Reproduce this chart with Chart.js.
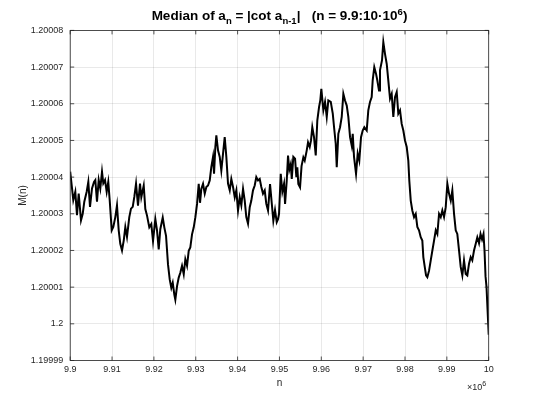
<!DOCTYPE html>
<html><head><meta charset="utf-8">
<script src="https://cdn.jsdelivr.net/npm/chart.js@4.4.0/dist/chart.umd.min.js"></script>
<style>
html,body{margin:0;padding:0;background:#fff;}
#wrap{position:relative;width:540px;height:405px;}
canvas{position:absolute;left:0;top:0;}
#title{position:absolute;left:70px;top:8px;width:419px;text-align:center;font:bold 13.5px "Liberation Sans",Arial,sans-serif;color:#000;line-height:16px;white-space:pre;}
#title sub,#title sup{font-size:9.5px;line-height:0;}
#expo{position:absolute;left:467px;top:381px;font:9px "Liberation Sans",Arial,sans-serif;color:#262626;line-height:12px;}
#expo sup{font-size:7px;line-height:0;}
</style></head>
<body><div id="wrap"><canvas id="c" width="540" height="405"></canvas>
<div id="title">Median of a<sub>n</sub> = |cot a<sub>n-1</sub>|   (n = 9.9:10·10<sup>6</sup>)</div>
<div id="expo">×10<sup>6</sup></div></div>
<script>
// n in units of 10^6
const nValues = [
9.90000,9.90043,9.90074,9.90122,9.90162,9.90203,9.90258,9.90299,9.90337,9.90394,
9.90433,9.90473,9.90521,9.90569,9.90600,9.90640,9.90681,9.90719,9.90760,9.90791,
9.90832,9.90872,9.90910,9.90944,9.90992,9.91030,9.91078,9.91118,9.91159,9.91197,
9.91238,9.91279,9.91317,9.91357,9.91412,9.91453,9.91494,9.91532,9.91573,9.91620,
9.91668,9.91699,9.91757,9.91795,9.91836,9.91890,9.91938,9.91979,9.92034,9.92075,
9.92115,9.92153,9.92211,9.92249,9.92290,9.92337,9.92378,9.92416,9.92450,9.92488,
9.92512,9.92553,9.92593,9.92631,9.92672,9.92713,9.92751,9.92792,9.92832,9.92870,
9.92911,9.92952,9.92990,9.93031,9.93071,9.93102,9.93133,9.93174,9.93215,9.93253,
9.93293,9.93334,9.93372,9.93413,9.93437,9.93468,9.93492,9.93532,9.93573,9.93611,
9.93652,9.93692,9.93731,9.93771,9.93812,9.93850,9.93891,9.93932,9.93970,9.94010,
9.94051,9.94089,9.94130,9.94170,9.94208,9.94249,9.94290,9.94328,9.94368,9.94409,
9.94447,9.94488,9.94528,9.94567,9.94607,9.94648,9.94686,9.94727,9.94775,9.94815,
9.94854,9.94894,9.94935,9.94966,9.94990,9.95031,9.95069,9.95110,9.95134,9.95174,
9.95205,9.95236,9.95270,9.95294,9.95332,9.95373,9.95404,9.95427,9.95451,9.95492,
9.95528,9.95571,9.95604,9.95652,9.95683,9.95723,9.95754,9.95785,9.95826,9.95867,
9.95905,9.95946,9.95977,9.96001,9.96049,9.96089,9.96130,9.96168,9.96226,9.96274,
9.96305,9.96345,9.96369,9.96407,9.96448,9.96488,9.96527,9.96567,9.96608,9.96646,
9.96687,9.96727,9.96751,9.96782,9.96830,9.96870,9.96908,9.96949,9.96989,9.97028,
9.97085,9.97123,9.97164,9.97204,9.97228,9.97266,9.97307,9.97338,9.97379,9.97402,
9.97450,9.97482,9.97522,9.97563,9.97601,9.97642,9.97682,9.97721,9.97761,9.97802,
9.97840,9.97881,9.97921,9.97960,9.98000,9.98041,9.98079,9.98103,9.98137,9.98175,
9.98216,9.98256,9.98295,9.98335,9.98376,9.98414,9.98438,9.98472,9.98503,9.98534,
9.98575,9.98615,9.98654,9.98694,9.98735,9.98773,9.98814,9.98854,9.98892,9.98933,
9.98973,9.99012,9.99052,9.99093,9.99131,9.99172,9.99212,9.99250,9.99291,9.99331,
9.99370,9.99410,9.99451,9.99489,9.99530,9.99570,9.99608,9.99649,9.99690,9.99728,
9.99769,9.99805,9.99841,9.99876,9.99900,9.99924,9.99948,9.99972,10.00000
];
const medianValues = [
1.2000415,1.2000370,1.2000337,1.2000360,1.2000296,1.2000355,1.2000282,1.2000300,1.2000333,1.2000360,
1.2000387,1.2000319,1.2000369,1.2000387,1.2000392,1.2000333,1.2000392,1.2000369,1.2000415,1.2000383,
1.2000392,1.2000360,1.2000387,1.2000337,1.2000255,1.2000264,1.2000291,1.2000323,1.2000255,1.2000218,
1.2000200,1.2000227,1.2000264,1.2000237,1.2000291,1.2000314,1.2000319,1.2000346,1.2000382,1.2000322,
1.2000382,1.2000345,1.2000377,1.2000313,1.2000295,1.2000263,1.2000272,1.2000226,1.2000286,1.2000254,
1.2000203,1.2000258,1.2000290,1.2000263,1.2000240,1.2000162,1.2000121,1.2000098,1.2000112,1.2000080,
1.2000066,1.2000103,1.2000126,1.2000139,1.2000158,1.2000135,1.2000176,1.2000158,1.2000199,1.2000208,
1.2000244,1.2000263,1.2000290,1.2000327,1.2000382,1.2000330,1.2000368,1.2000382,1.2000355,1.2000373,
1.2000377,1.2000391,1.2000427,1.2000455,1.2000409,1.2000482,1.2000514,1.2000473,1.2000455,1.2000418,
1.2000464,1.2000509,1.2000455,1.2000382,1.2000364,1.2000395,1.2000373,1.2000345,1.2000364,1.2000309,
1.2000345,1.2000323,1.2000368,1.2000336,1.2000291,1.2000273,1.2000318,1.2000336,1.2000364,1.2000377,
1.2000400,1.2000391,1.2000395,1.2000373,1.2000355,1.2000364,1.2000327,1.2000309,1.2000381,1.2000330,
1.2000281,1.2000310,1.2000277,1.2000285,1.2000300,1.2000409,1.2000360,1.2000382,1.2000327,1.2000390,
1.2000459,1.2000420,1.2000435,1.2000395,1.2000455,1.2000450,1.2000400,1.2000427,1.2000381,1.2000372,
1.2000430,1.2000454,1.2000445,1.2000473,1.2000495,1.2000482,1.2000500,1.2000536,1.2000509,1.2000459,
1.2000555,1.2000591,1.2000610,1.2000641,1.2000582,1.2000605,1.2000564,1.2000609,1.2000605,1.2000573,
1.2000536,1.2000491,1.2000427,1.2000518,1.2000536,1.2000564,1.2000627,1.2000609,1.2000595,1.2000564,
1.2000509,1.2000486,1.2000518,1.2000455,1.2000409,1.2000464,1.2000445,1.2000509,1.2000527,1.2000536,
1.2000527,1.2000582,1.2000605,1.2000618,1.2000664,1.2000700,1.2000682,1.2000664,1.2000636,1.2000691,
1.2000718,1.2000768,1.2000736,1.2000709,1.2000664,1.2000614,1.2000627,1.2000564,1.2000618,1.2000632,
1.2000573,1.2000582,1.2000545,1.2000527,1.2000500,1.2000482,1.2000445,1.2000390,1.2000336,1.2000309,
1.2000291,1.2000300,1.2000264,1.2000255,1.2000236,1.2000227,1.2000182,1.2000155,1.2000132,1.2000127,
1.2000145,1.2000173,1.2000200,1.2000227,1.2000255,1.2000245,1.2000300,1.2000291,1.2000309,1.2000291,
1.2000318,1.2000382,1.2000355,1.2000336,1.2000364,1.2000300,1.2000255,1.2000245,1.2000200,1.2000155,
1.2000132,1.2000173,1.2000136,1.2000132,1.2000164,1.2000182,1.2000173,1.2000200,1.2000218,1.2000236,
1.2000220,1.2000245,1.2000230,1.2000245,1.2000200,1.2000130,1.2000100,1.2000040,1.1999970
];
const xTickValues = [9.9,9.91,9.92,9.93,9.94,9.95,9.96,9.97,9.98,9.99,10];
const xTickLabels = ['9.9','9.91','9.92','9.93','9.94','9.95','9.96','9.97','9.98','9.99','10'];
const yTickValues = [1.19999,1.2,1.20001,1.20002,1.20003,1.20004,1.20005,1.20006,1.20007,1.20008];
const yTickLabels = ['1.19999','1.2','1.20001','1.20002','1.20003','1.20004','1.20005','1.20006','1.20007','1.20008'];
const xAxisTitle = 'n';
const yAxisTitle = 'M(n)';

const points = nValues.map((n, i) => ({x: n, y: medianValues[i]}));
const AX = '#262626';
const FONT = '"Liberation Sans", Arial, sans-serif';

const boxTicks = {
  id: 'boxTicks',
  afterDraw(chart) {
    const {ctx, chartArea: a, scales} = chart;
    ctx.save();
    ctx.strokeStyle = AX;
    ctx.lineWidth = 0.8;
    ctx.strokeRect(a.left, a.top, a.right - a.left, a.bottom - a.top);
    ctx.beginPath();
    const L = 4;
    xTickValues.forEach(v => {
      const px = scales.x.getPixelForValue(v);
      ctx.moveTo(px, a.bottom); ctx.lineTo(px, a.bottom - L);
      ctx.moveTo(px, a.top); ctx.lineTo(px, a.top + L);
    });
    yTickValues.forEach(v => {
      const py = scales.y.getPixelForValue(v);
      ctx.moveTo(a.left, py); ctx.lineTo(a.left + L, py);
      ctx.moveTo(a.right, py); ctx.lineTo(a.right - L, py);
    });
    ctx.stroke();
    ctx.restore();
  }
};

new Chart(document.getElementById('c'), {
  type: 'line',
  data: { datasets: [{ data: points, borderColor: '#000', borderWidth: 2, pointRadius: 0, tension: 0, fill: false }] },
  options: {
    responsive: false, animation: false, devicePixelRatio: 1,
    layout: { padding: { top: 30.4, right: 51.3, left: 0, bottom: 0 } },
    plugins: { legend: { display: false }, title: { display: false }, tooltip: { enabled: false } },
    scales: {
      x: {
        type: 'linear', min: 9.9, max: 10,
        afterBuildTicks: s => { s.ticks = xTickValues.map(v => ({value: v})); },
        afterFit: s => { s.height = 44.5; },
        ticks: { color: AX, font: { family: FONT, size: 9 }, padding: 4, maxRotation: 0,
                 callback: (v, i) => xTickLabels[i] },
        grid: { color: 'rgba(38,38,38,0.13)', lineWidth: 0.8, drawTicks: false },
        border: { display: false },
        title: { display: true, text: xAxisTitle, color: AX, font: { family: FONT, size: 10 }, padding: { top: 0, bottom: 16 } }
      },
      y: {
        type: 'linear', min: 1.19999, max: 1.20008,
        afterBuildTicks: s => { s.ticks = yTickValues.map(v => ({value: v})); },
        afterFit: s => { s.width = 70.2; },
        ticks: { color: AX, font: { family: FONT, size: 9 }, padding: 7,
                 callback: (v, i) => yTickLabels[i] },
        grid: { color: 'rgba(38,38,38,0.13)', lineWidth: 0.8, drawTicks: false },
        border: { display: false },
        title: { display: true, text: yAxisTitle, color: AX, font: { family: FONT, size: 10 }, padding: { top: 17, bottom: 0 } }
      }
    }
  },
  plugins: [boxTicks]
});
</script>
</body></html>
